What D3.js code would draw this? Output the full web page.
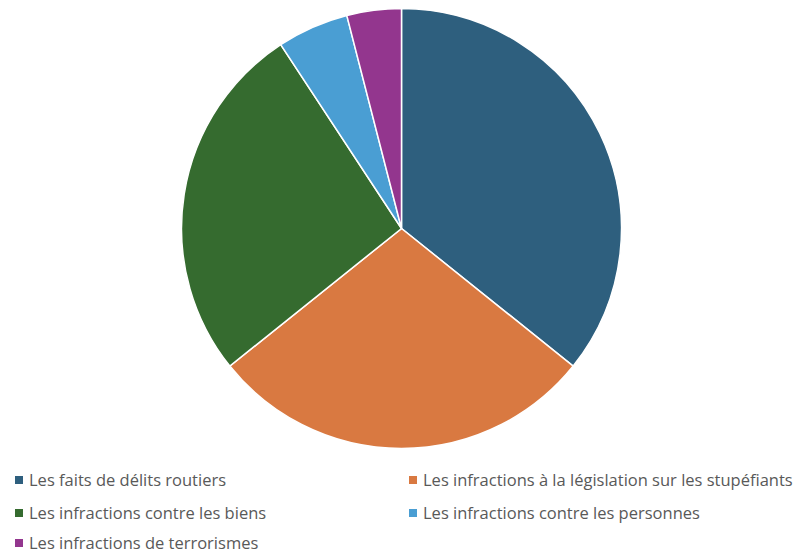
<!DOCTYPE html>
<html>
<head>
<meta charset="utf-8">
<script src="https://cdn.jsdelivr.net/npm/d3@7"></script>
<style>
  body { margin: 0; background: #fff; }
</style>
</head>
<body>
<div id="chart"></div>
<script>
// parts of the pie, in percent
const categories = [
    "Les faits de délits routiers",
    "Les infractions à la législation sur les stupéfiants",
    "Les infractions contre les biens",
    "Les infractions contre les personnes",
    "Les infractions de terrorismes"
];
const values = [35.75, 28.5, 26.5, 5.25, 4.0];
const colors = ["#2E5F7E", "#D97941", "#356B2F", "#4A9ED3", "#93368E"];

let w = 804, h = 554;
let cx = 401.5, cy = 228.5, radius = 220;

let svg = d3.select("#chart")
    .append("svg")
    .attr("width", w)
    .attr("height", h);

let data = categories.map((c, i) => ({ name: c, value: values[i], color: colors[i] }));

let pie = d3.pie().value(d => d.value).sort(null);
let arc = d3.arc().innerRadius(0).outerRadius(radius);

// slices
svg.append("g")
    .attr("transform", `translate(${cx},${cy})`)
    .selectAll("path")
    .data(pie(data))
    .enter()
    .append("path")
    .attr("d", arc)
    .attr("fill", d => d.data.color)
    .attr("stroke", "#fff")
    .attr("stroke-width", 1.5);

// legend, two columns
let col_x = [15, 409];
let row_y = [480, 513, 543];
let legend = svg.append("g")
    .selectAll("g")
    .data(data)
    .enter()
    .append("g")
    .attr("transform", (d, i) => `translate(${col_x[i % 2]},${row_y[Math.floor(i / 2)]})`);

legend.append("rect")
    .attr("x", 0)
    .attr("y", -4)
    .attr("width", 8)
    .attr("height", 8)
    .attr("fill", d => d.color);

legend.append("text")
    .attr("x", 14)
    .attr("y", 0)
    .attr("dy", "0.35em")
    .attr("font-family", "'Open Sans', sans-serif")
    .attr("font-size", 16.5)
    .attr("fill", "#595959")
    .text(d => d.name);
</script>
</body>
</html>
